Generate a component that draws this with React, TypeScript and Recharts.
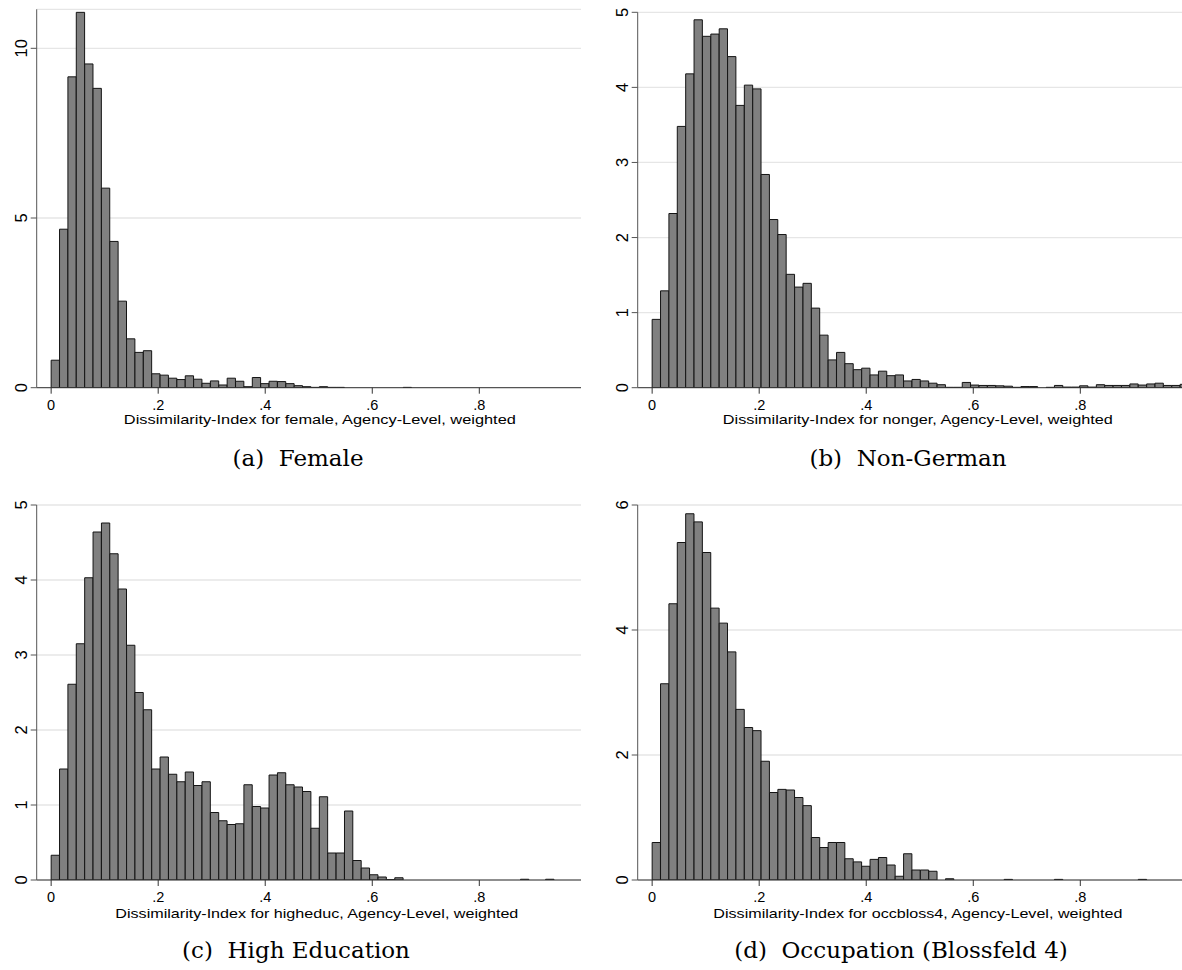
import React from 'react';
import { BarChart, Bar, XAxis, YAxis, CartesianGrid } from 'recharts';

// ---- data (densities) ----
const BIN_START = 0.0;
const BIN_WIDTH = 0.01566;

const xTicks = [0, 0.2, 0.4, 0.6, 0.8];

const femaleDensity = [
  0.81, 4.67, 9.16, 11.06, 9.54, 8.82, 5.88, 4.31, 2.55, 1.44,
  1.04, 1.09, 0.41, 0.37, 0.28, 0.24, 0.35, 0.25, 0.13, 0.2,
  0.08, 0.28, 0.19, 0.03, 0.3, 0.12, 0.19, 0.18, 0.12, 0.06,
  0.03, 0.01, 0.03, 0.01, 0.01, 0, 0, 0, 0, 0,
  0, 0, 0.01, 0, 0, 0, 0, 0, 0, 0,
  0, 0, 0, 0, 0, 0, 0, 0, 0, 0,
  0, 0, 0,
];

const nongerDensity = [
  0.91, 1.29, 2.32, 3.48, 4.18, 4.9, 4.68, 4.71, 4.78, 4.41,
  3.76, 4.03, 3.98, 2.84, 2.24, 2.04, 1.51, 1.34, 1.39, 1.06,
  0.7, 0.37, 0.47, 0.32, 0.24, 0.26, 0.17, 0.22, 0.16, 0.17,
  0.09, 0.11, 0.09, 0.06, 0.04, 0.005, 0.005, 0.07, 0.035, 0.03,
  0.03, 0.025, 0.02, 0.005, 0.015, 0.015, 0, 0.005, 0.03, 0.008,
  0.008, 0.025, 0.008, 0.04, 0.03, 0.03, 0.03, 0.05, 0.035, 0.05,
  0.06, 0.03, 0.03, 0.045,
];

const higheducDensity = [
  0.33, 1.48, 2.61, 3.15, 4.03, 4.64, 4.76, 4.35, 3.88, 3.13,
  2.5, 2.27, 1.48, 1.64, 1.41, 1.31, 1.44, 1.26, 1.31, 0.9,
  0.79, 0.74, 0.75, 1.27, 0.98, 0.96, 1.4, 1.43, 1.27, 1.24,
  1.18, 0.69, 1.11, 0.36, 0.36, 0.92, 0.26, 0.16, 0.07, 0.04,
  0.005, 0.03, 0, 0, 0, 0, 0, 0, 0, 0,
  0, 0, 0, 0, 0, 0, 0.01, 0, 0, 0.01,
  0, 0, 0,
];

const occbloss4Density = [
  0.6, 3.14, 4.42, 5.4, 5.86, 5.73, 5.24, 4.35, 4.11, 3.65,
  2.73, 2.44, 2.39, 1.9, 1.4, 1.45, 1.44, 1.32, 1.19, 0.68,
  0.52, 0.6, 0.6, 0.34, 0.29, 0.22, 0.33, 0.36, 0.24, 0.06,
  0.42, 0.16, 0.16, 0.14, 0, 0.02, 0, 0, 0, 0,
  0, 0, 0.01, 0, 0, 0, 0, 0, 0.01, 0,
  0, 0, 0, 0, 0, 0, 0, 0, 0.01, 0,
  0, 0, 0,
];

const femaleYTicks = [0, 5, 10];
const nongerYTicks = [0, 1, 2, 3, 4, 5];
const higheducYTicks = [0, 1, 2, 3, 4, 5];
const occbloss4YTicks = [0, 2, 4, 6];

const axisTitles = [
  'Dissimilarity-Index for female, Agency-Level, weighted',
  'Dissimilarity-Index for nonger, Agency-Level, weighted',
  'Dissimilarity-Index for higheduc, Agency-Level, weighted',
  'Dissimilarity-Index for occbloss4, Agency-Level, weighted',
];

const captions = ['(a)  Female', '(b)  Non-German', '(c)  High Education', '(d)  Occupation (Blossfeld 4)'];

// ---- helpers ----
const toBins = (values: number[]) =>
  values.map((v, i) => ({ x: BIN_START + (i + 0.5) * BIN_WIDTH, density: v }));

const fmtX = (v: number) => (v === 0 ? '0' : String(Number(v.toFixed(1))).replace(/^0/, ''));

const SANS = '"Liberation Sans", Arial, Helvetica, sans-serif';
const SERIF = '"DejaVu Serif", "Liberation Serif", serif';

const YTick = (props: any) => {
  const { x, y, payload } = props;
  return (
    <text
      transform={`translate(${x - 3.5},${y}) rotate(-90)`}
      textAnchor="middle"
      fontSize={16.5}
      fontFamily={SANS}
      fill="#000"
    >
      {payload.value}
    </text>
  );
};

type PanelProps = {
  values: number[];
  yDomain: [number, number];
  yTicks: number[];
  title: string;
  titleDx: number;
  titleLen: number;
  titleDy: number;
  left: number;
  top: number;
  height: number;
  marginTop: number;
  xAxisHeight: number;
};

const Panel = (p: PanelProps) => {
  const data = toBins(p.values);
  const renderTitle = (lp: any) => {
    const vb = lp.viewBox || {};
    return (
      <text
        x={vb.x + vb.width / 2 + p.titleDx}
        y={vb.y + p.titleDy}
        textAnchor="middle"
        fontSize={13.5}
        fontFamily={SANS}
        fill="#000"
        textLength={p.titleLen}
        lengthAdjust="spacingAndGlyphs"
      >
        {p.title}
      </text>
    );
  };
  return (
    <div style={{ position: 'absolute', left: p.left, top: p.top }}>
      <BarChart
        width={581}
        height={p.height}
        data={data}
        margin={{ top: p.marginTop, right: 0, bottom: 0, left: 0 }}
        barCategoryGap={0}
        barGap={0}
      >
        <CartesianGrid vertical={false} stroke="#e6e6e6" strokeWidth={1.3} />
        <XAxis
          dataKey="x"
          type="number"
          domain={[-0.027, 0.99]}
          ticks={xTicks}
          interval={0}
          allowDataOverflow
          tickFormatter={fmtX}
          height={p.xAxisHeight}
          tickSize={6}
          tickMargin={6}
          stroke="#333"
          tick={{ fill: '#000', fontSize: 14.5, fontFamily: SANS }}
          label={renderTitle}
        />
        <YAxis
          type="number"
          domain={p.yDomain}
          ticks={p.yTicks}
          interval={0}
          allowDataOverflow
          width={36.7}
          tickSize={6}
          tickMargin={0}
          stroke="#555"
          tick={<YTick />}
        />
        <Bar
          dataKey="density"
          fill="#808080"
          stroke="#141414"
          strokeWidth={1}
          barSize={8.3}
          isAnimationActive={false}
        />
      </BarChart>
    </div>
  );
};

export default function App() {
  return (
    <div style={{ position: 'absolute', left: 0, top: 0, width: 1182, height: 970, background: '#fff', overflow: 'hidden' }}>
      <Panel values={femaleDensity} yDomain={[0, 11.15]} yTicks={femaleYTicks} title={axisTitles[0]}
        titleDx={11} titleLen={392} titleDy={36.6} left={0} top={0} height={480} marginTop={9.3} xAxisHeight={92.3} />
      <Panel values={nongerDensity} yDomain={[0, 5]} yTicks={nongerYTicks} title={axisTitles[1]}
        titleDx={8} titleLen={390} titleDy={36.6} left={601} top={0} height={480} marginTop={12.3} xAxisHeight={92.3} />
      <Panel values={higheducDensity} yDomain={[0, 5]} yTicks={higheducYTicks} title={axisTitles[2]}
        titleDx={8} titleLen={403} titleDy={38.3} left={0} top={480} height={490} marginTop={25} xAxisHeight={90} />
      <Panel values={occbloss4Density} yDomain={[0, 6]} yTicks={occbloss4YTicks} title={axisTitles[3]}
        titleDx={8} titleLen={409} titleDy={38.3} left={601} top={480} height={490} marginTop={25} xAxisHeight={90} />
      <svg width={1182} height={970} style={{ position: 'absolute', left: 0, top: 0, pointerEvents: 'none' }}>
        <text x={298} y={466} textAnchor="middle" fontSize={23} fontFamily={SERIF} fill="#000" xmlSpace="preserve">{captions[0]}</text>
        <text x={908} y={466} textAnchor="middle" fontSize={23} fontFamily={SERIF} fill="#000" xmlSpace="preserve">{captions[1]}</text>
        <text x={296} y={958} textAnchor="middle" fontSize={23} fontFamily={SERIF} fill="#000" xmlSpace="preserve">{captions[2]}</text>
        <text x={901} y={958} textAnchor="middle" fontSize={23} fontFamily={SERIF} fill="#000" xmlSpace="preserve">{captions[3]}</text>
      </svg>
    </div>
  );
}
